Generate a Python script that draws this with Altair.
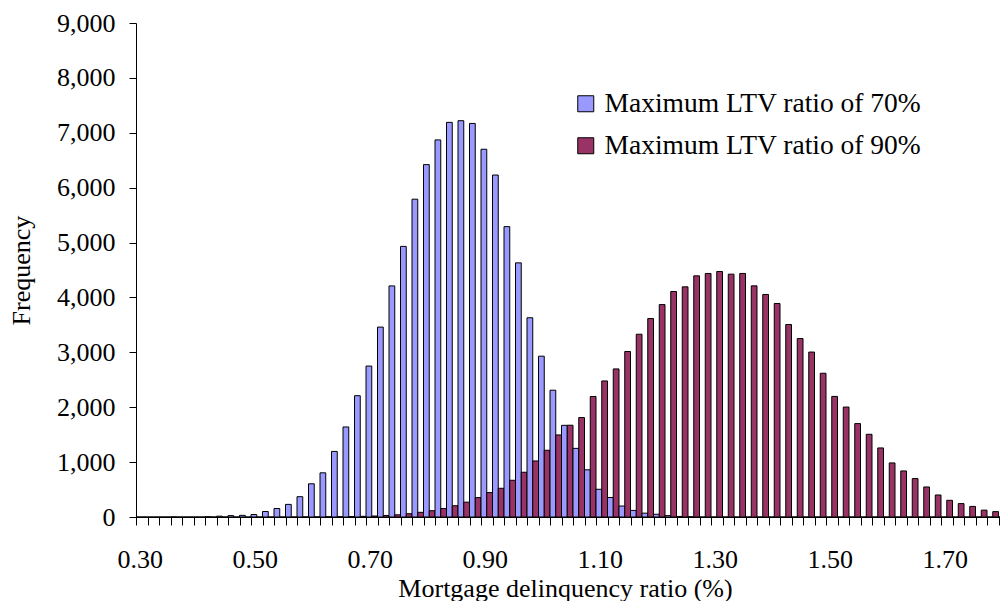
import altair as alt
import pandas as pd

categories = [
    "0.30", "0.32", "0.34", "0.36", "0.38", "0.40", "0.42", "0.44", "0.46", "0.48",
    "0.50", "0.52", "0.54", "0.56", "0.58", "0.60", "0.62", "0.64", "0.66", "0.68",
    "0.70", "0.72", "0.74", "0.76", "0.78", "0.80", "0.82", "0.84", "0.86", "0.88",
    "0.90", "0.92", "0.94", "0.96", "0.98", "1.00", "1.02", "1.04", "1.06", "1.08",
    "1.10", "1.12", "1.14", "1.16", "1.18", "1.20", "1.22", "1.24", "1.26", "1.28",
    "1.30", "1.32", "1.34", "1.36", "1.38", "1.40", "1.42", "1.44", "1.46", "1.48",
    "1.50", "1.52", "1.54", "1.56", "1.58", "1.60", "1.62", "1.64", "1.66", "1.68",
    "1.70", "1.72", "1.74", "1.76", "1.78", "1.80",
]

ltv70 = [
    0, 0, 0, 3, 0, 0, 5, 15, 25, 30,
    45, 100, 155, 230, 370, 605, 805, 1195, 1640, 2210,
    2750, 3460, 4210, 4930, 5790, 6420, 6870, 7190, 7220, 7170,
    6700, 6230, 5290, 4630, 3630, 2930, 2310, 1670, 1250, 860,
    505, 355, 200, 120, 70, 50, 25, 10, 5, 0,
    0, 0, 0, 0, 0, 0, 0, 0, 0, 0,
    0, 0, 0, 0, 0, 0, 0, 0, 0, 0,
    0, 0, 0, 0, 0, 0,
]

ltv90 = [
    0, 0, 0, 0, 0, 0, 0, 0, 0, 0,
    0, 0, 0, 0, 2, 3, 5, 6, 8, 12,
    18, 28, 40, 60, 85, 115, 155, 205, 270, 354,
    445, 523, 669, 815, 1021, 1216, 1495, 1672, 1812, 2195,
    2479, 2698, 3015, 3330, 3616, 3870, 4108, 4193, 4393, 4437,
    4473, 4424, 4437, 4211, 4054, 3890, 3507, 3252, 3005, 2619,
    2197, 2003, 1702, 1507, 1258, 985, 839, 700, 547, 401,
    304, 244, 193, 125, 98, 64,
]

series_names = ["Maximum LTV ratio of 70%", "Maximum LTV ratio of 90%"]
series_colors = ["#9999FF", "#993366"]
label_values = ["0.30", "0.50", "0.70", "0.90", "1.10", "1.30", "1.50", "1.70"]

rows = []
for c, a, b in zip(categories, ltv70, ltv90):
    rows.append({"ratio": c, "series": series_names[0], "freq": a})
    rows.append({"ratio": c, "series": series_names[1], "freq": b})
df = pd.DataFrame(rows)

FONT = "Liberation Serif"
label_list = "[" + ",".join(f"'{v}'" for v in label_values) + "]"

chart = alt.Chart(df).mark_bar(stroke="black", strokeWidth=1).encode(
    x=alt.X(
        "ratio:N",
        sort=categories,
        scale=alt.Scale(domain=categories, range=[0, 874], paddingInner=0, paddingOuter=0),
        axis=alt.Axis(
            title="Mortgage delinquency ratio (%)",
            tickBand="extent",
            labelExpr=f"indexof({label_list}, datum.value) >= 0 ? datum.value : ''",
            labelOverlap=False,
            labelAngle=0,
            labelOffset=-2,
            labelBaseline="alphabetic",
            labelPadding=42,
            tickSize=8,
            titleX=429,
            titleY=79,
            titleBaseline="alphabetic",
        ),
    ),
    xOffset=alt.XOffset("series:N", sort=series_names,
                        scale=alt.Scale(domain=series_names, paddingInner=0, paddingOuter=0)),
    y=alt.Y(
        "freq:Q",
        scale=alt.Scale(domain=[0, 9000], nice=False),
        axis=alt.Axis(
            title="Frequency",
            values=[0, 1000, 2000, 3000, 4000, 5000, 6000, 7000, 8000, 9000],
            format=",d",
            tickSize=7,
            labelPadding=14,
            titleAngle=270,
            titleX=-107,
            titleY=247,
            titleAlign="center",
            titleBaseline="alphabetic",
        ),
    ),
    color=alt.Color(
        "series:N",
        sort=series_names,
        scale=alt.Scale(domain=series_names, range=series_colors),
        legend=alt.Legend(
            title=None,
            orient="none",
            legendX=436,
            legendY=67,
            symbolType="square",
            symbolSize=256,
            symbolStrokeColor="black",
            symbolStrokeWidth=1,
            labelLimit=0,
            labelOffset=5,
            rowPadding=13,
            padding=0,
        ),
    ),
).properties(
    width=864,
    height=494,
    autosize="none",
    padding={"left": 128, "top": 15, "right": 0, "bottom": 84},
).configure(
    font=FONT
).configure_view(
    stroke=None
).configure_axis(
    grid=False,
    domainColor="black",
    tickColor="black",
    labelColor="black",
    titleColor="black",
    labelFont=FONT,
    titleFont=FONT,
    labelFontSize=26,
    titleFontSize=26,
    titleFontWeight="normal",
).configure_legend(
    labelFont=FONT,
    labelFontSize=27.5,
    labelColor="black",
)

chart.save("out.html", embed_options={"renderer": "svg", "actions": False})
